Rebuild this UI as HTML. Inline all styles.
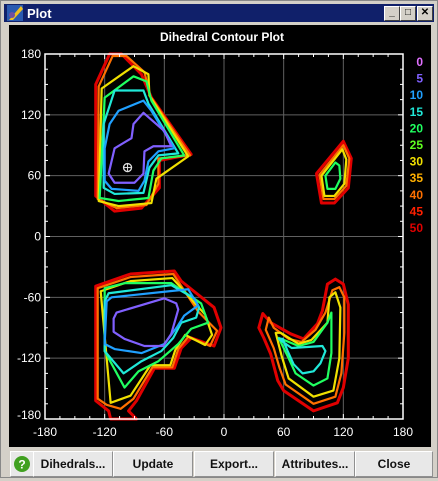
<!DOCTYPE html>
<html><head><meta charset="utf-8"><style>
body{margin:0;width:438px;height:478px;overflow:hidden;background:#d4d0c8;font-family:"Liberation Sans",sans-serif;}
#win{position:absolute;left:0;top:0;width:436px;height:476px;border:1px solid #888;background:#d4d0c8;}
#tb{position:absolute;left:3px;top:3px;width:430px;height:18px;background:#10206a;color:#fff;font-weight:bold;font-size:13px;}
.wb{position:absolute;top:2px;width:14px;height:13px;background:#d4d0c8;border:1px solid;border-color:#fff #404040 #404040 #fff;font-size:10px;color:#000;text-align:center;line-height:12px;}
#plot{position:absolute;left:8px;top:24px;width:422px;height:422px;background:#000;}
.btn{position:absolute;top:450px;height:24px;background:#e8e8e8;border:1px solid;border-color:#fff #909090 #909090 #fff;font-size:12px;font-weight:bold;text-align:center;line-height:24px;color:#111;}
</style></head><body>
<div id="win">
<div id="tb">
 <svg style="position:absolute;left:3px;top:1px" width="16" height="16"><rect width="16" height="16" fill="#2a5ab0"/><polygon points="2,15 14,1 16,4 6,15" fill="#f0c020"/><circle cx="5" cy="10" r="3" fill="#7050a0"/></svg>
 <span style="position:absolute;left:23px;top:2px">Plot</span>
 <div class="wb" style="left:380px">_</div>
 <div class="wb" style="left:396px">□</div>
 <div class="wb" style="left:413px">✕</div>
</div>
<div id="plot"></div>
<svg id="chart" style="position:absolute;left:0;top:0" width="438" height="478"></svg>
<div class="btn" style="left:9px;width:22px"><svg width="18" height="18" style="margin-top:3px"><circle cx="9" cy="9" r="8" fill="#40a020"/><text x="9" y="13.5" font-size="12" font-weight="bold" fill="#fff" text-anchor="middle" font-family="Liberation Sans">?</text></svg></div>
<div class="btn" style="left:32px;width:78px">Dihedrals...</div>
<div class="btn" style="left:112px;width:78px">Update</div>
<div class="btn" style="left:193px;width:78px">Export...</div>
<div class="btn" style="left:274px;width:78px">Attributes...</div>
<div class="btn" style="left:354px;width:76px">Close</div>
</div>
<script>
const xTicks=[-180,-120,-60,0,60,120,180];
const yTicks=[180,120,60,0,-60,-120,-180];
const legendLevels=["0","5","10","15","20","25","30","35","40","45","50"];
const legendColors=["#e070ff","#8060ff","#20a0ff","#20e8d8","#20ff60","#60ff20","#f0e000","#ffb000","#ff7000","#ff2000","#e00000"];
const cA50=[[-115,180],[-129,150],[-129,40],[-110,25],[-83,28],[-65,48],[-65,75],[-33,81],[-73,137],[-83,160],[-103,180]];
const cA40=[[-112,178],[-126,148],[-127,37],[-108,28],[-78,31],[-66,52],[-66,77],[-34,80],[-74,138],[-80,162],[-98,178]];
const cA30=[[-91,168],[-123,146],[-126,35],[-106,30],[-73,33],[-68,57],[-36,79],[-75,139],[-76,160]];
const cA20=[[-91,158],[-120,137],[-125,38],[-106,35],[-76,38],[-71,65],[-63,77],[-40,80],[-73,134],[-78,153]];
const cA15=[[-110,144],[-121,111],[-121,48],[-110,42],[-81,43],[-75,68],[-66,80],[-46,82],[-76,131],[-81,144]];
const cA10=[[-81,134],[-106,124],[-115,111],[-120,87],[-120,55],[-113,47],[-86,45],[-80,55],[-76,74],[-66,84],[-50,87],[-73,124]];
const cA5=[[-81,122],[-91,111],[-93,97],[-110,87],[-116,62],[-110,53],[-90,53],[-81,62],[-80,84],[-71,89],[-53,89],[-60,104]];
const cB50=[[-129,-49],[-94,-37],[-50,-34],[-43,-44],[-10,-70],[-3,-90],[-10,-108],[-33,-100],[-43,-110],[-50,-130],[-70,-130],[-88,-162],[-96,-172],[-88,-180],[-114,-180],[-116,-172],[-129,-162]];
const cB40=[[-127,-51],[-94,-40],[-51,-37],[-26,-74],[-7,-93],[-14,-108],[-36,-99],[-46,-111],[-52,-129],[-72,-129],[-91,-160],[-104,-170],[-118,-166],[-127,-160]];
const cB30=[[-124,-54],[-94,-44],[-52,-41],[-19,-77],[-12,-97],[-19,-107],[-39,-97],[-49,-112],[-54,-127],[-74,-127],[-94,-157],[-114,-164]];
const cB20=[[-120,-51],[-100,-46],[-53,-46],[-23,-66],[-16,-85],[-33,-91],[-46,-106],[-66,-123],[-86,-133],[-100,-149],[-120,-113]];
const cB15=[[-116,-56],[-53,-48],[-30,-61],[-25,-70],[-28,-80],[-43,-85],[-51,-100],[-63,-113],[-83,-123],[-101,-135],[-120,-113],[-120,-64]];
const cB10=[[-113,-60],[-36,-52],[-26,-68],[-40,-78],[-47,-89],[-60,-106],[-83,-115],[-110,-111],[-120,-106],[-118,-64]];
const cB5=[[-108,-75],[-60,-61],[-48,-66],[-46,-72],[-53,-96],[-61,-108],[-80,-108],[-100,-101],[-111,-94],[-111,-81]];
const cC50=[[39,-76],[35,-90],[40,-100],[47,-116],[54,-142],[60,-152],[90,-172],[114,-164],[120,-149],[125,-120],[125,-67],[120,-47],[112,-42],[104,-47],[99,-73],[94,-86],[80,-101],[67,-96],[47,-85]];
const cC40=[[45,-80],[42,-92],[50,-110],[56,-130],[62,-146],[90,-165],[112,-158],[118,-135],[121,-95],[121,-60],[116,-50],[109,-53],[102,-75],[92,-92],[78,-104],[65,-101],[50,-90]];
const cC30=[[52,-95],[58,-118],[65,-140],[90,-158],[110,-152],[116,-120],[117,-70],[112,-55],[106,-60],[104,-85],[88,-102],[75,-106],[57,-95]];
const cC20=[[55,-100],[65,-120],[72,-135],[90,-147],[104,-140],[108,-115],[108,-75],[104,-85],[90,-104],[75,-108],[60,-102]];
const cC15=[[55,-101],[68,-110],[99,-108],[102,-113],[97,-125],[90,-133],[79,-135],[70,-126],[64,-113],[59,-101]];
const cD50=[[120,94],[93,62],[98,33],[111,33],[125,48],[128,77]];
const cD40=[[120,90],[96,61],[100,37],[111,37],[123,50],[126,77]];
const cD30=[[119,86],[98,60],[101,40],[111,40],[121,52],[123,76]];
const cD20=[[112,73],[102,60],[104,47],[112,47],[117,57],[116,70]];
const contours=[[50,cA50],[40,cA40],[30,cA30],[20,cA20],[15,cA15],[10,cA10],[5,cA5],[50,cB50],[40,cB40],[30,cB30],[20,cB20],[15,cB15],[10,cB10],[5,cB5],[50,cC50],[40,cC40],[30,cC30],[20,cC20],[15,cC15],[50,cD50],[40,cD40],[30,cD30],[20,cD20]];
const marker=[-97,68];

const X0=44,X1=402,Y0=418,Y1=53;
const sx=v=>X0+(v+180)/360*(X1-X0);
const sy=v=>Y0-(v+180)/360*(Y0-Y1);
const NS="http://www.w3.org/2000/svg";
const svg=document.getElementById('chart');
function mk(t,a){const e=document.createElementNS(NS,t);for(const k in a)e.setAttribute(k,a[k]);svg.appendChild(e);return e;}
let e=mk('text',{x:221,y:40,fill:'#fff','font-size':12,'font-weight':'bold','text-anchor':'middle','font-family':'Liberation Sans'});e.textContent='Dihedral Contour Plot';


xTicks.slice(1,-1).forEach(v=>{const g=mk('line',{x1:sx(v),x2:sx(v),y1:Y1,y2:Y0,stroke:'#606060','stroke-width':1});

});
yTicks.slice(1,-1).forEach(v=>{const g=mk('line',{x1:X0,x2:X1,y1:sy(v),y2:sy(v),stroke:'#606060','stroke-width':1});

});
function colorFor(l){return legendColors[legendLevels.indexOf(String(l))];}
contours.forEach(([lvl,pts])=>{
 const p=mk('polygon',{points:pts.map(q=>sx(q[0])+','+sy(q[1])).join(' '),fill:'none',stroke:colorFor(lvl),'stroke-width':lvl==50?3:2.2,'stroke-linejoin':'round'});
 
 
});
const mx=sx(marker[0]),my=sy(marker[1]);
const m=mk('g',{});m.innerHTML=`<circle cx="${mx}" cy="${my}" r="4" fill="none" stroke="#ddd" stroke-width="1.3"/><line x1="${mx-4}" x2="${mx+4}" y1="${my}" y2="${my}" stroke="#ddd"/><line x1="${mx}" x2="${mx}" y1="${my-4}" y2="${my+4}" stroke="#ddd"/>`;


const bx=mk('rect',{x:X0,y:Y1,width:X1-X0,height:Y0-Y1,fill:'none',stroke:'#fff','stroke-width':1.5});


for(let v=-180;v<=180;v+=15){
 const big=v%60===0;const L=big?5:3;
 const t1=mk('line',{x1:sx(v),x2:sx(v),y1:Y1,y2:Y1+L,stroke:'#fff'});
 
 
 const t2=mk('line',{x1:sx(v),x2:sx(v),y1:Y0,y2:Y0-L,stroke:'#fff'});
 
 
 const t3=mk('line',{x1:X0,x2:X0+L,y1:sy(v),y2:sy(v),stroke:'#fff'});
 
 
 const t4=mk('line',{x1:X1,x2:X1-L,y1:sy(v),y2:sy(v),stroke:'#fff'});
 
 
}
xTicks.forEach(v=>{const t=mk('text',{x:sx(v),y:435,fill:'#fff','font-size':12,'text-anchor':'middle','font-family':'Liberation Sans'});t.textContent=v;

});
yTicks.forEach(v=>{const t=mk('text',{x:40,y:sy(v)+(v===-180?0:4),fill:'#fff','font-size':12,'text-anchor':'end','font-family':'Liberation Sans'});t.textContent=v;

});
legendLevels.forEach((l,i)=>{const t=mk('text',{x:422,y:65+i*16.6,fill:legendColors[i],'font-size':12,'font-weight':'bold','text-anchor':'end','font-family':'Liberation Sans'});t.textContent=l;

});
</script>
</body></html>
